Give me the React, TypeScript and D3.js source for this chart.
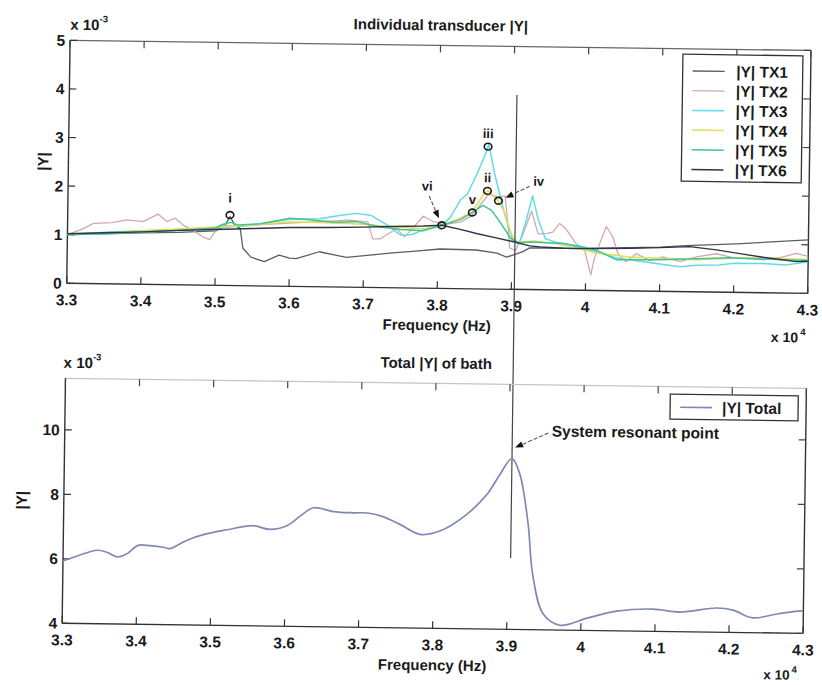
import React from 'react';
import * as d3 from 'd3';

// ---------- data (frequency in x10^4 Hz, |Y| in x10^-3) ----------
const freqTicks = [3.3, 3.4, 3.5, 3.6, 3.7, 3.8, 3.9, 4.0, 4.1, 4.2, 4.3];
const topYTicks = [0, 1, 2, 3, 4, 5];
const bottomYTicks = [4, 6, 8, 10];
const seriesNames = ['|Y| TX1', '|Y| TX2', '|Y| TX3', '|Y| TX4', '|Y| TX5', '|Y| TX6'];
const totalName = '|Y| Total';

const tx1: [number, number][] = [
  [3.30, 1.02], [3.35, 1.03], [3.40, 1.06], [3.45, 1.08], [3.50, 1.12], [3.512, 1.22], [3.519, 1.42],
  [3.526, 1.24], [3.533, 1.18], [3.537, 0.77], [3.548, 0.59], [3.566, 0.50], [3.586, 0.64], [3.600, 0.58],
  [3.609, 0.57], [3.640, 0.72], [3.677, 0.61], [3.705, 0.66], [3.735, 0.71], [3.770, 0.76], [3.803, 0.81],
  [3.852, 0.80], [3.880, 0.74], [3.893, 0.66], [3.915, 0.78], [3.924, 0.86], [3.960, 0.86], [3.991, 0.86],
  [4.059, 0.89], [4.100, 0.91], [4.135, 0.95], [4.203, 1.00], [4.250, 1.05], [4.300, 1.10],
];
const tx2: [number, number][] = [
  [3.30, 1.00], [3.32, 1.12], [3.335, 1.24], [3.36, 1.26], [3.38, 1.32], [3.402, 1.29], [3.422, 1.45],
  [3.434, 1.30], [3.445, 1.37], [3.456, 1.23], [3.47, 1.12], [3.483, 0.99], [3.492, 0.94], [3.499, 1.10],
  [3.506, 1.24], [3.53, 1.22], [3.56, 1.26], [3.60, 1.30], [3.64, 1.34], [3.68, 1.38], [3.705, 1.35],
  [3.712, 1.00], [3.722, 1.00], [3.744, 1.22], [3.755, 1.05], [3.771, 1.32], [3.780, 1.48], [3.794, 1.37],
  [3.81, 1.32], [3.83, 1.37], [3.845, 1.50], [3.86, 1.80], [3.868, 1.95], [3.880, 1.90], [3.890, 1.92],
  [3.895, 1.20], [3.897, 0.85], [3.905, 0.80], [3.915, 1.15], [3.926, 1.62], [3.935, 1.15], [3.947, 1.16],
  [3.955, 1.19], [3.964, 1.37], [3.973, 1.25], [3.987, 0.95], [3.998, 0.83], [4.007, 0.32], [4.011, 0.63],
  [4.018, 0.95], [4.027, 1.32], [4.036, 1.11], [4.043, 0.77], [4.054, 0.60], [4.068, 0.77], [4.086, 0.63],
  [4.104, 0.71], [4.127, 0.62], [4.149, 0.72], [4.176, 0.79], [4.20, 0.71], [4.239, 0.68], [4.265, 0.74],
  [4.284, 0.82], [4.30, 0.76],
];
const tx3: [number, number][] = [
  [3.30, 1.00], [3.35, 1.06], [3.40, 1.10], [3.45, 1.14], [3.50, 1.18], [3.55, 1.25], [3.60, 1.38],
  [3.64, 1.40], [3.667, 1.47], [3.69, 1.52], [3.71, 1.48], [3.73, 1.30], [3.75, 1.08], [3.765, 1.10],
  [3.78, 1.20], [3.80, 1.28], [3.807, 1.32], [3.817, 1.48], [3.830, 1.83], [3.839, 1.95], [3.852, 2.38],
  [3.862, 2.75], [3.867, 2.98], [3.875, 2.40], [3.888, 1.63], [3.901, 1.00], [3.910, 0.94], [3.919, 1.43],
  [3.927, 1.93], [3.935, 1.45], [3.945, 1.05], [3.96, 0.98], [3.98, 0.92], [4.00, 0.85], [4.02, 0.78],
  [4.04, 0.68], [4.059, 0.64], [4.09, 0.58], [4.127, 0.51], [4.149, 0.55], [4.18, 0.56], [4.20, 0.60],
  [4.239, 0.60], [4.27, 0.58], [4.30, 0.65],
];
const tx4: [number, number][] = [
  [3.30, 1.00], [3.35, 1.04], [3.40, 1.10], [3.45, 1.15], [3.50, 1.20], [3.55, 1.25], [3.60, 1.33],
  [3.65, 1.32], [3.70, 1.30], [3.74, 1.25], [3.78, 1.22], [3.805, 1.30], [3.825, 1.42], [3.845, 1.57],
  [3.861, 1.95], [3.867, 2.02], [3.879, 1.84], [3.888, 1.63], [3.899, 1.14], [3.906, 0.97], [3.93, 1.00],
  [3.96, 0.95], [4.00, 0.82], [4.014, 0.77], [4.059, 0.70], [4.10, 0.68], [4.149, 0.66], [4.20, 0.70],
  [4.239, 0.72], [4.30, 0.70],
];
const tx5: [number, number][] = [
  [3.30, 1.00], [3.35, 1.03], [3.40, 1.07], [3.45, 1.12], [3.50, 1.18], [3.51, 1.26], [3.52, 1.30],
  [3.53, 1.25], [3.56, 1.28], [3.60, 1.40], [3.63, 1.37], [3.66, 1.33], [3.69, 1.35], [3.72, 1.25],
  [3.75, 1.20], [3.78, 1.18], [3.805, 1.30], [3.83, 1.42], [3.846, 1.57], [3.86, 1.72], [3.872, 1.62],
  [3.885, 1.35], [3.898, 1.05], [3.91, 0.96], [3.924, 0.98], [3.97, 0.96], [4.00, 0.88], [4.014, 0.83],
  [4.041, 0.64], [4.10, 0.65], [4.15, 0.68], [4.194, 0.71], [4.25, 0.69], [4.284, 0.68], [4.30, 0.68],
];
const tx6: [number, number][] = [
  [3.30, 1.02], [3.35, 1.05], [3.40, 1.08], [3.45, 1.12], [3.50, 1.15], [3.55, 1.18], [3.60, 1.21],
  [3.65, 1.22], [3.70, 1.24], [3.735, 1.26], [3.780, 1.28], [3.805, 1.30], [3.830, 1.22], [3.852, 1.14],
  [3.880, 1.05], [3.902, 0.98], [3.924, 0.90], [3.938, 0.88], [3.97, 0.86], [4.00, 0.86], [4.06, 0.88],
  [4.10, 0.90], [4.14, 0.93], [4.176, 0.87], [4.212, 0.79], [4.239, 0.73], [4.284, 0.65], [4.30, 0.66],
];
const totalY: [number, number][] = [
  [3.300, 5.93], [3.320, 6.10], [3.346, 6.28], [3.359, 6.22], [3.374, 6.08], [3.386, 6.18], [3.401, 6.45],
  [3.413, 6.45], [3.435, 6.40], [3.444, 6.36], [3.467, 6.63], [3.494, 6.84], [3.521, 6.97], [3.555, 7.11],
  [3.579, 7.00], [3.602, 7.13], [3.620, 7.44], [3.637, 7.69], [3.664, 7.58], [3.690, 7.55], [3.710, 7.55],
  [3.730, 7.45], [3.754, 7.21], [3.781, 6.91], [3.808, 7.02], [3.844, 7.55], [3.871, 8.18], [3.888, 8.80],
  [3.904, 9.30], [3.915, 8.81], [3.927, 7.27], [3.934, 5.72], [3.949, 4.49], [3.972, 4.15], [4.008, 4.38],
  [4.048, 4.61], [4.097, 4.69], [4.134, 4.61], [4.183, 4.75], [4.205, 4.69], [4.232, 4.46], [4.264, 4.59],
  [4.293, 4.69], [4.300, 4.70],
];
const resonanceLabels = ['i', 'ii', 'iii', 'iv', 'v', 'vi'];
const resonanceFreq = [3.519, 3.866, 3.866, 3.881, 3.846, 3.805];
const resonanceValue = [1.45, 2.02, 2.93, 1.82, 1.57, 1.30];
const cursorFreq = 3.904;
const systemResonance: [number, number] = [3.904, 9.3];
const topTitle = 'Individual transducer |Y|';
const bottomTitle = 'Total |Y| of bath';
const xLabel = 'Frequency (Hz)';
const yLabel = '|Y|';
const resonantNote = 'System resonant point';

// ---------- styles / layout ----------
const W = 822, H = 685;
const X0 = 66, X1 = 807;
const TOP = { y0: 45, y1: 288 };
const BOT = { y0: 383, y1: 628 };
const FONT = '"Liberation Sans", Arial, sans-serif';
const seriesColors = ['#5e5e62', '#d2a9ae', '#63dbe6', '#e4de52', '#3fc49c', '#2e3348'];
const seriesWidths = [1.3, 1.3, 1.5, 1.5, 1.5, 1.4];
const allSeries = [tx1, tx2, tx3, tx4, tx5, tx6];
const labelOffsets: Record<string, [number, number]> = {
  i: [0, -17], ii: [0, -13], iii: [0, -13], iv: [40, -20], v: [0, -13], vi: [-15, -39],
};
const arrowOffsets: Record<string, [number, number, number, number]> = {
  iv: [31, -15, 7, -3], vi: [-13, -29, -3, -7],
};

function Arrow({ x1, y1, x2, y2, color = '#555' }: { x1: number; y1: number; x2: number; y2: number; color?: string }) {
  const a = Math.atan2(y2 - y1, x2 - x1);
  const L = 8, Wd = 3.2;
  const bx = x2 - L * Math.cos(a), by = y2 - L * Math.sin(a);
  const p1 = [bx + Wd * Math.sin(a), by - Wd * Math.cos(a)];
  const p2 = [bx - Wd * Math.sin(a), by + Wd * Math.cos(a)];
  return (
    <g>
      <line x1={x1} y1={y1} x2={bx} y2={by} stroke={color} strokeWidth={1.1} strokeDasharray="4 2" />
      <polygon points={`${x2},${y2} ${p1[0]},${p1[1]} ${p2[0]},${p2[1]}`} fill="#111" />
    </g>
  );
}

function Frame({ y0, y1, yTicks, yScale, topColor }: { y0: number; y1: number; yTicks: number[]; yScale: d3.ScaleLinear<number, number>; topColor: string }) {
  const x = d3.scaleLinear().domain([3.3, 4.3]).range([X0, X1]);
  const tl = 7;
  const fmt = d3.format('~g');
  return (
    <g>
      <line x1={X0} y1={y0} x2={X1} y2={y0} stroke={topColor} strokeWidth={1.3} />
      <line x1={X0} y1={y1} x2={X1} y2={y1} stroke="#333" strokeWidth={1.4} />
      <line x1={X0} y1={y0} x2={X0} y2={y1} stroke="#333" strokeWidth={1.4} />
      <line x1={X1} y1={y0} x2={X1} y2={y1} stroke="#333" strokeWidth={1.4} />
      {freqTicks.map((t) => (
        <g key={'x' + t}>
          <line x1={x(t)} x2={x(t)} y1={y1} y2={y1 - tl} stroke="#333" strokeWidth={1.2} />
          <line x1={x(t)} x2={x(t)} y1={y0} y2={y0 + tl} stroke="#444" strokeWidth={1.2} />
          <text x={x(t)} y={y1 + 22} textAnchor="middle" fontSize={15.5} fontWeight="bold" fill="#1a1a1a">{fmt(t)}</text>
        </g>
      ))}
      {yTicks.map((t) => (
        <g key={'y' + t}>
          <line x1={X0} x2={X0 + tl} y1={yScale(t)} y2={yScale(t)} stroke="#333" strokeWidth={1.2} />
          <line x1={X1} x2={X1 - tl} y1={yScale(t)} y2={yScale(t)} stroke="#444" strokeWidth={1.2} />
          <text x={X0 - 5} y={yScale(t) + 5.5} textAnchor="end" fontSize={15.5} fontWeight="bold" fill="#1a1a1a">{t}</text>
        </g>
      ))}
    </g>
  );
}

export default function App() {
  const x = d3.scaleLinear().domain([3.3, 4.3]).range([X0, X1]);
  const yTop = d3.scaleLinear().domain([0, 5]).range([TOP.y1, TOP.y0]);
  const yBot = d3.scaleLinear().domain([4, 11.6]).range([BOT.y1, BOT.y0]);
  const lineTop = d3.line<[number, number]>().x((d) => x(d[0])).y((d) => yTop(d[1]));
  const lineBot = d3.line<[number, number]>().x((d) => x(d[0])).y((d) => yBot(d[1])).curve(d3.curveCatmullRom.alpha(0.5));
  const cx = (X0 + X1) / 2;
  const px = x(systemResonance[0]), py = yBot(systemResonance[1]);

  return (
    <svg width={W} height={H} style={{ position: 'absolute', left: 0, top: 0, background: '#fff' }} fontFamily={FONT}>
      <rect x={0} y={0} width={W} height={H} fill="#fff" />
      <defs>
        <clipPath id="clipTop"><rect x={X0} y={TOP.y0} width={X1 - X0} height={TOP.y1 - TOP.y0} /></clipPath>
        <clipPath id="clipBot"><rect x={X0} y={BOT.y0} width={X1 - X0} height={BOT.y1 - BOT.y0} /></clipPath>
      </defs>
      <g transform="rotate(0.78 411 342)">
        {/* ---------- top plot ---------- */}
        <text x={cx} y={30} textAnchor="middle" fontSize={15} fontWeight="bold" fill="#1a1a1a">{topTitle}</text>
        <text x={X0} y={34.5} fontSize={15} fontWeight="bold" fill="#1a1a1a">x 10<tspan dy={-8} fontSize={9.5}>-3</tspan></text>
        <Frame y0={TOP.y0} y1={TOP.y1} yTicks={topYTicks} yScale={yTop} topColor="#666" />
        <g clipPath="url(#clipTop)">
          {allSeries.map((s, i) => (
            <path key={i} d={lineTop(s) || ''} fill="none" stroke={seriesColors[i]} strokeWidth={seriesWidths[i]} strokeLinejoin="round" />
          ))}
        </g>
        {resonanceLabels.map((lab, i) => {
          const mx = x(resonanceFreq[i]), my = yTop(resonanceValue[i]);
          const [ox, oy] = labelOffsets[lab];
          const ar = arrowOffsets[lab];
          return (
            <g key={lab}>
              <ellipse cx={mx} cy={my} rx={3.8} ry={3.4} fill="none" stroke="#1a1a1a" strokeWidth={1.6} />
              <text x={mx + ox} y={my + oy + 4.5} textAnchor="middle" fontSize={13} fontWeight="bold" fill="#1a1a1a">{lab}</text>
              {ar && <Arrow x1={mx + ar[0]} y1={my + ar[1]} x2={mx + ar[2]} y2={my + ar[3]} />}
            </g>
          );
        })}
        <text x={cx} y={330} textAnchor="middle" fontSize={15} fontWeight="bold" fill="#1a1a1a">{xLabel}</text>
        <text x={798} y={337} textAnchor="end" fontSize={14} fontWeight="bold" fill="#1a1a1a">x 10</text>
        <text x={800} y={330} fontSize={9.5} fontWeight="bold" fill="#1a1a1a">4</text>
        <text transform={`translate(46,${(TOP.y0 + TOP.y1) / 2}) rotate(-90)`} textAnchor="middle" fontSize={15} fontWeight="bold" fill="#1a1a1a">{yLabel}</text>
        {/* legend top */}
        <rect x={679} y={50.5} width={120} height={127} fill="#fff" stroke="#333" strokeWidth={1.3} />
        {seriesNames.map((n, i) => (
          <g key={n}>
            <line x1={689} x2={721} y1={67.2 + i * 19.7} y2={67.2 + i * 19.7} stroke={seriesColors[i]} strokeWidth={seriesWidths[i]} />
            <text x={732.5} y={67.2 + i * 19.7 + 5.5} fontSize={15.5} fontWeight="bold" fill="#1a1a1a">{n}</text>
          </g>
        ))}

        {/* cursor line */}
        <line x1={x(cursorFreq)} x2={x(cursorFreq)} y1={93.6} y2={556.6} stroke="#444" strokeWidth={1.2} />

        {/* ---------- bottom plot ---------- */}
        <text x={cx} y={368} textAnchor="middle" fontSize={15} fontWeight="bold" fill="#1a1a1a">{bottomTitle}</text>
        <text x={64} y={372.5} fontSize={15} fontWeight="bold" fill="#1a1a1a">x 10<tspan dy={-8} fontSize={9.5}>-3</tspan></text>
        <Frame y0={BOT.y0} y1={BOT.y1} yTicks={bottomYTicks} yScale={yBot} topColor="#c4c4c4" />
        <g clipPath="url(#clipBot)">
          <path d={lineBot(totalY) || ''} fill="none" stroke="#8089b4" strokeWidth={1.7} strokeLinejoin="round" />
        </g>
        <Arrow x1={px + 36} y1={py - 26} x2={px + 3} y2={py - 11} />
        <text x={553} y={434.5} fontSize={15.5} fontWeight="bold" fill="#1a1a1a">{resonantNote}</text>
        <text x={cx} y={670} textAnchor="middle" fontSize={15} fontWeight="bold" fill="#1a1a1a">{xLabel}</text>
        <text x={794} y={674.5} textAnchor="end" fontSize={13.5} fontWeight="bold" fill="#1a1a1a">x 10</text>
        <text x={796} y={667.5} fontSize={9.5} fontWeight="bold" fill="#1a1a1a">4</text>
        <text transform={`translate(29,${(BOT.y0 + BOT.y1) / 2}) rotate(-90)`} textAnchor="middle" fontSize={15} fontWeight="bold" fill="#1a1a1a">{yLabel}</text>
        {/* legend bottom */}
        <rect x={671} y={390.6} width={128} height={25} fill="#fff" stroke="#333" strokeWidth={1.3} />
        <line x1={681} x2={713} y1={403.6} y2={403.6} stroke="#8089b4" strokeWidth={1.7} />
        <text x={723} y={409} fontSize={15.5} fontWeight="bold" fill="#1a1a1a">{totalName}</text>
      </g>
    </svg>
  );
}
